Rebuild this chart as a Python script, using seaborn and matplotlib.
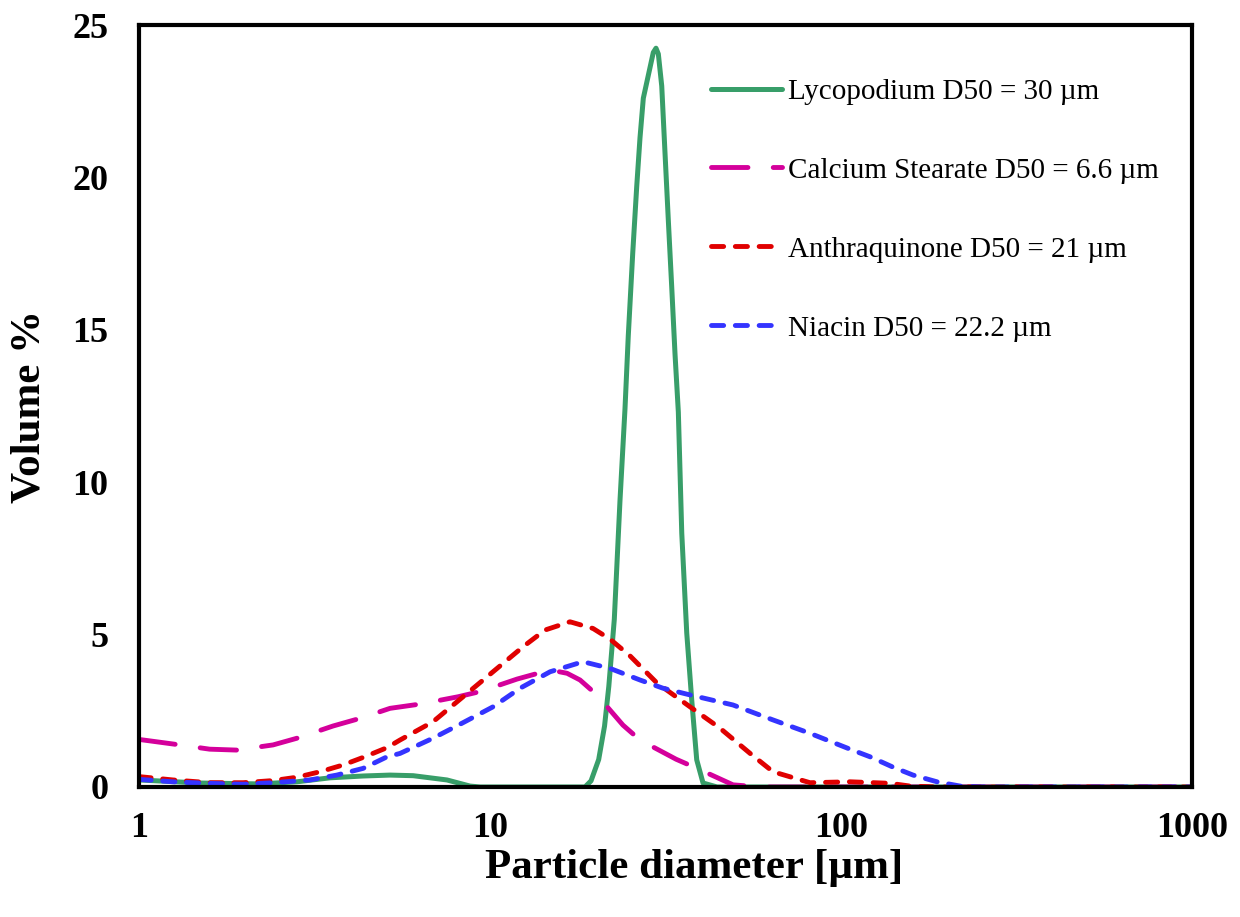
import matplotlib
matplotlib.use("Agg")
import matplotlib.pyplot as plt
from matplotlib.ticker import NullLocator
import seaborn as sns

# Particle size distributions (volume %) vs particle diameter (µm)
lyco_d = [1.0, 1.49, 2.21, 2.82, 3.50, 4.35, 5.19, 6.04, 7.54, 8.77, 9.37,
          18.65, 19.4, 20.4, 21.2, 21.8, 22.6, 23.46, 24.24, 24.77, 25.50,
          26.18, 26.75, 27.34, 28.56, 29.19, 29.71, 30.17, 30.85, 31.52,
          32.21, 32.94, 33.66, 34.40, 35.18, 36.35, 37.56, 38.81, 40.45,
          44.34, 1000.0]
lyco_v = [0.23, 0.13, 0.10, 0.17, 0.30, 0.36, 0.39, 0.37, 0.23, 0.03, 0.0,
          0.0, 0.2, 0.9, 2.0, 3.3, 5.5, 9.4, 12.4, 14.8, 17.5,
          19.7, 21.3, 22.6, 23.6, 24.1, 24.24, 24.05, 23.0, 20.8,
          18.6, 16.4, 14.2, 12.3, 8.33, 5.05, 2.85, 0.89, 0.13,
          0.0, 0.0]

cast_d = [1.0, 1.25, 1.59, 1.90, 2.41, 2.82, 3.57, 4.26, 5.19, 6.32, 8.11,
          9.37, 11.94, 14.83, 16.58, 18.05, 20.17, 23.92, 26.75, 33.9, 38.88,
          49.24, 58.8, 1000.0]
cast_v = [1.56, 1.41, 1.24, 1.21, 1.38, 1.60, 2.00, 2.25, 2.58, 2.72, 2.96,
          3.13, 3.54, 3.84, 3.73, 3.51, 3.02, 2.03, 1.54, 0.91, 0.61,
          0.07, 0.0, 0.0]

anth_d = [1.0, 1.25, 1.59, 1.98, 2.41, 2.82, 3.28, 3.81, 4.35, 5.09, 5.54,
          6.88, 8.38, 10.2, 12.42, 14.35, 16.9, 19.66, 21.98, 25.06, 29.91,
          37.14, 45.2, 55.1, 64.0, 81.6, 106.1, 137.9, 157.2, 187.7, 1000.0]
anth_v = [0.34, 0.23, 0.14, 0.14, 0.21, 0.32, 0.50, 0.72, 0.97, 1.29, 1.54,
          2.14, 2.96, 3.78, 4.60, 5.15, 5.42, 5.20, 4.85, 4.30, 3.41,
          2.63, 1.93, 1.10, 0.50, 0.14, 0.17, 0.12, 0.03, 0.0, 0.0]

niac_d = [1.0, 1.25, 1.56, 1.98, 2.41, 3.07, 3.66, 4.35, 5.09, 5.54, 6.88,
          8.38, 10.2, 12.18, 14.83, 18.41, 21.98, 26.75, 31.11, 37.14, 49.24,
          64.0, 81.6, 106.1, 121.0, 140.7, 160.4, 187.7, 218.3, 250.0, 1000.0]
niac_v = [0.25, 0.17, 0.12, 0.09, 0.14, 0.23, 0.39, 0.61, 0.99, 1.10, 1.60,
          2.11, 2.63, 3.24, 3.78, 4.11, 3.89, 3.51, 3.24, 3.02, 2.69,
          2.20, 1.76, 1.24, 0.99, 0.65, 0.39, 0.17, 0.03, 0.0, 0.0]

labels = ["Lycopodium D50 = 30 µm",
          "Calcium Stearate D50 = 6.6 µm",
          "Anthraquinone D50 = 21 µm",
          "Niacin D50 = 22.2 µm"]
x_ticks = [1, 10, 100, 1000]
x_tick_labels = ["1", "10", "100", "1000"]
y_ticks = [0, 5, 10, 15, 20, 25]

sns.set_style("white")
plt.rcParams["font.family"] = ["Liberation Serif", "DejaVu Serif"]
plt.rcParams["text.color"] = "black"
plt.rcParams["axes.labelcolor"] = "black"
plt.rcParams["xtick.color"] = "black"
plt.rcParams["ytick.color"] = "black"

fig = plt.figure(figsize=(12.4, 9.17), dpi=100)
ax = fig.add_axes([0.1121, 0.1418, 0.8492, 0.8309])

styles = [
    (lyco_d, lyco_v, "#389E69", "-", 3.6),
    (cast_d, cast_v, "#D4009B", (0, (7.5, 5.2)), 3.5),
    (anth_d, anth_v, "#E00000", (0, (2.5, 2.4)), 3.5),
    (niac_d, niac_v, "#3434FF", (0, (2.5, 2.4)), 3.5),
]
for (d, v, c, ls, lw), lab in zip(styles, labels):
    sns.lineplot(x=d, y=v, ax=ax, color=c, linestyle=ls, linewidth=lw,
                 label=lab, estimator=None, sort=False,
                 dash_capstyle="round", solid_capstyle="round",
                 solid_joinstyle="round")

ax.set_xscale("log")
ax.set_xlim(1, 1000)
ax.set_ylim(0, 25)
ax.set_xticks(x_ticks)
ax.set_xticklabels(x_tick_labels, fontweight="bold")
ax.xaxis.set_minor_locator(NullLocator())
ax.set_yticks(y_ticks)
ax.set_yticklabels([str(t) for t in y_ticks], fontweight="bold")
ax.tick_params(axis="both", direction="in", length=8, width=2.5,
               labelsize=26, colors="black")
ax.tick_params(axis="y", pad=22)
ax.tick_params(axis="x", pad=18)

for s in ax.spines.values():
    s.set_visible(True)
    s.set_color("black")
    s.set_linewidth(3.0)

ax.set_xlabel("Particle diameter [µm]", fontsize=31, fontweight="bold",
              color="black")
ax.set_ylabel("Volume %", fontsize=31, fontweight="bold", color="black")
ax.xaxis.set_label_coords(0.527, -0.081)
ax.yaxis.set_label_coords(-0.086, 0.5)

leg = ax.legend(loc="upper left", bbox_to_anchor=(0.543, 0.93),
                frameon=False, fontsize=21, handlelength=2.45,
                handletextpad=0.2, labelspacing=1.8, borderaxespad=0,
                borderpad=0)
for t in leg.get_texts():
    t.set_color("black")

fig.savefig("out.png", dpi=100, facecolor="white")
